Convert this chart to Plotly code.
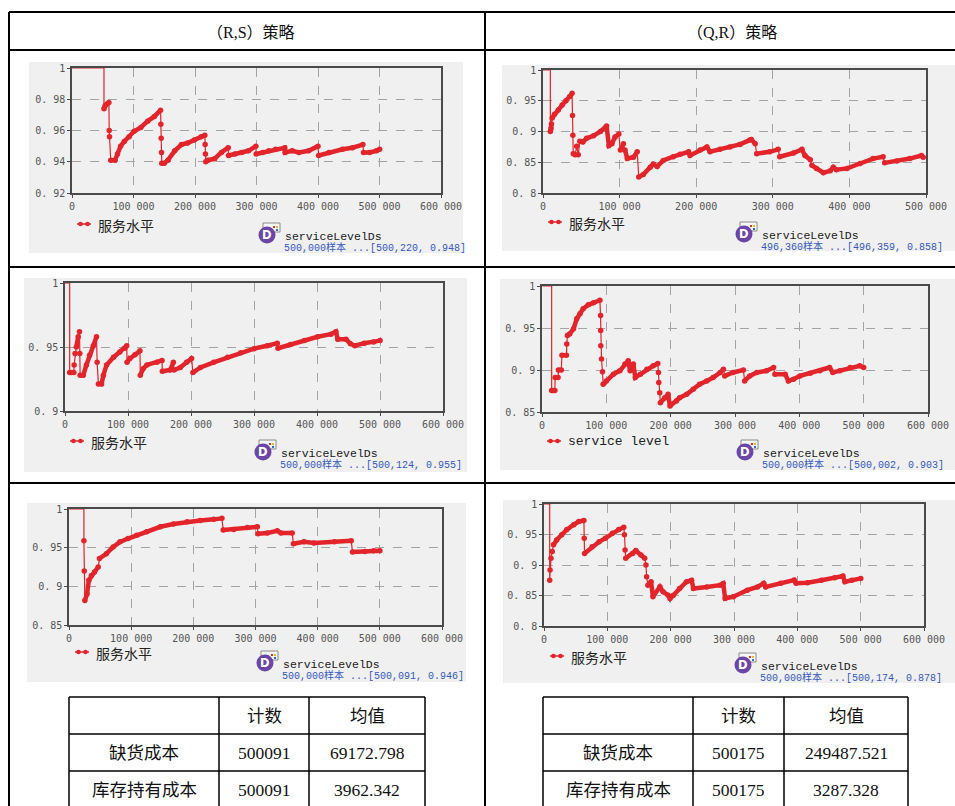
import plotly.graph_objects as go

W, H = 955, 806

# ---------------- data: service level over simulated time ----------------
# (R,S) policy, run A
rs_a_x = [0, 52000,
          52000, 54000, 57000, 60000,
          60500, 61000, 63000, 70000,
          74000, 79000, 85000, 93000, 101000,
          112000, 123000, 134000, 144000,
          144500, 145000, 145500, 146000, 150000,
          156000, 167000, 178000, 188000, 199000, 210000, 216000,
          216500, 217000, 217500, 221000, 232000, 243000, 254000,
          254500, 265000, 276000, 287000, 299000,
          299500, 310000, 320000, 331000, 346000,
          346500, 358000, 369000, 385000, 400000,
          401000, 418000, 440000, 456000, 473000,
          474000, 484000, 495000, 500220]
rs_a_y = [1.0, 1.0,
          0.974, 0.976, 0.977, 0.978,
          0.960, 0.956, 0.941, 0.941,
          0.945, 0.950, 0.953, 0.956, 0.9595,
          0.962, 0.966, 0.969, 0.973,
          0.964, 0.955, 0.946, 0.939, 0.939,
          0.941, 0.947, 0.951, 0.952, 0.954, 0.956, 0.957,
          0.951, 0.945, 0.940, 0.941, 0.942, 0.946, 0.949,
          0.944, 0.945, 0.946, 0.947, 0.950,
          0.945, 0.946, 0.947, 0.948, 0.949,
          0.946, 0.947, 0.946, 0.947, 0.950,
          0.944, 0.946, 0.948, 0.949, 0.951,
          0.946, 0.946, 0.947, 0.948]

# (Q,R) policy, run A
qr_a_x = [0, 9600,
          9600, 10500, 11000, 12000, 15000, 20000, 25000, 30000, 35000, 38000,
          38500, 39000, 39500, 42000, 44000, 46000, 48000, 52000, 57000, 66000, 75000, 83000,
          86000, 90000, 94000, 99000,
          101000, 105000, 107000, 110000, 118000, 123000,
          125000, 131000, 140000, 144000, 149000,
          157000, 170000, 179000, 190000, 192000,
          205000, 214000, 218000, 231000, 244000,
          257000, 270000, 272000, 277000, 279000,
          296000, 307000, 309000, 327000, 338000,
          342000, 349000, 351000, 357000, 366000,
          375000, 379000, 383000, 397000, 414000,
          431000, 444000, 446000, 462000, 479000,
          494000, 496359]
qr_a_y = [1.0, 1.0,
          0.900, 0.905, 0.912, 0.922, 0.928, 0.935, 0.943, 0.950, 0.957, 0.962,
          0.926, 0.894, 0.864, 0.862, 0.876, 0.862, 0.884, 0.883, 0.889, 0.893, 0.900, 0.909,
          0.877, 0.880, 0.891, 0.896,
          0.870, 0.880, 0.870, 0.856, 0.858, 0.867,
          0.826, 0.830, 0.842, 0.847, 0.843,
          0.853, 0.859, 0.863, 0.867, 0.861,
          0.870, 0.875, 0.867, 0.871, 0.875,
          0.879, 0.886, 0.887, 0.880, 0.864,
          0.867, 0.871, 0.859, 0.865, 0.871,
          0.861, 0.854, 0.845, 0.840, 0.833,
          0.836, 0.842, 0.838, 0.840, 0.848,
          0.856, 0.859, 0.849, 0.852, 0.856,
          0.861, 0.858]

# (R,S) policy, run B
rs_b_x = [0, 7400,
          7400, 10000, 14000, 14500, 16000, 18000, 21000, 23000,
          23500, 24000, 29000, 34000, 39000, 45000, 50000,
          51000, 53000, 58000, 61000, 66000, 77000, 87000, 95000, 98000,
          98500, 103000, 111000, 119000,
          119500, 124000, 130000, 146000, 154000,
          154500, 167000, 172000,
          173000, 183000, 193000, 201000,
          203000, 215000, 236000, 258000, 279000, 300000, 321000, 337000,
          338000, 358000, 380000, 401000, 422000, 430000,
          433000, 446000, 453000, 460000, 475000, 490000, 500124]
rs_b_y = [1.0, 1.0,
          0.930, 0.930, 0.930, 0.936, 0.945, 0.950, 0.958, 0.962,
          0.945, 0.928, 0.928, 0.936, 0.9435, 0.951, 0.958,
          0.938, 0.921, 0.921, 0.928, 0.936, 0.942, 0.946, 0.949, 0.951,
          0.938, 0.941, 0.944, 0.947,
          0.928, 0.933, 0.936, 0.938, 0.9395,
          0.931, 0.932, 0.938,
          0.932, 0.934, 0.938, 0.941,
          0.930, 0.934, 0.938, 0.942, 0.9456, 0.9487, 0.951, 0.953,
          0.949, 0.952, 0.955, 0.958, 0.960, 0.962,
          0.956, 0.956, 0.9526, 0.951, 0.953, 0.954, 0.955]

# (Q,R) policy, run B
qr_b_x = [0, 15000,
          15000, 17000, 20000, 20500, 25000, 25500, 30000, 31000, 38000,
          38500, 39500, 43000, 49000, 54000, 59000, 64000, 72000, 80000, 90000,
          91000, 91200, 91400, 92500, 94000, 95000,
          100000, 111000, 121000, 129000, 134000,
          137000, 142000,
          145000, 153000, 163000, 173000, 180000,
          181000, 181500, 183000, 184000, 191000, 196000, 199000, 209000, 214000, 225000,
          235000, 245000, 256000, 266000, 277000, 282000, 284000, 297000, 313000,
          315000, 323000, 334000, 349000, 360000,
          362000, 378000, 383000, 391000, 401000, 417000, 432000, 447000, 452000, 463000,
          479000, 494000, 500002]
qr_b_y = [1.0, 1.0,
          0.8756, 0.8756, 0.8756, 0.891, 0.891, 0.900, 0.900, 0.9176, 0.9176,
          0.931, 0.941, 0.943, 0.949, 0.961, 0.967, 0.973, 0.9776, 0.980, 0.983,
          0.965, 0.947, 0.929, 0.913, 0.898, 0.883,
          0.887, 0.895, 0.899, 0.907, 0.911,
          0.899, 0.907,
          0.891, 0.895, 0.901, 0.905, 0.9076,
          0.897, 0.885, 0.873, 0.861, 0.867, 0.871, 0.857, 0.863, 0.867, 0.871,
          0.877, 0.883, 0.887, 0.891, 0.897, 0.901, 0.893, 0.897, 0.900,
          0.887, 0.893, 0.897, 0.899, 0.903,
          0.895, 0.895, 0.887, 0.889, 0.893, 0.896, 0.899, 0.903, 0.897, 0.899,
          0.903, 0.905, 0.903]

# (R,S) policy, run C
rs_c_x = [0, 24000,
          24000, 24500, 25500, 29000, 32000, 36000, 41000, 47000, 49000, 60000,
          71000, 82000, 95000, 109000, 125000, 147000, 168000, 190000, 211000, 233000, 246000,
          248000, 265000, 287000, 303000,
          304000, 319000, 335000, 341000, 359000,
          361000, 378000, 394000, 427000, 454000,
          456000, 476000, 490000, 500091]
rs_c_y = [1.0, 1.0,
          0.9588, 0.9198, 0.8817, 0.890, 0.908, 0.914, 0.9185, 0.925, 0.936, 0.942,
          0.951, 0.9575, 0.9618, 0.966, 0.9705, 0.977, 0.9805, 0.9835, 0.985, 0.9866, 0.9879,
          0.9727, 0.9736, 0.976, 0.977,
          0.968, 0.969, 0.9718, 0.969, 0.969,
          0.955, 0.9575, 0.956, 0.9575, 0.9588,
          0.9445, 0.945, 0.946, 0.946]

# (Q,R) policy, run C
qr_c_x = [0, 9000,
          9000, 9600, 11000, 13000, 15000, 20000, 28000, 36000, 47000, 55000, 63000,
          63500, 64000, 76000, 87000, 97000, 108000, 118000, 126000,
          127000, 128000, 129000, 140000, 145000, 153000, 159000, 161000, 162000, 164000,
          169000, 172000, 183000, 188000, 196000, 199000, 204000, 214000, 225000, 233000,
          236000, 257000, 278000, 283000, 286000, 299000, 321000, 337000, 347000, 350000,
          374000, 395000, 398000, 416000, 438000, 459000, 472000, 475000, 486000, 500174]
qr_c_y = [1.0, 1.0,
          0.875, 0.892, 0.911, 0.922, 0.933, 0.941, 0.9495, 0.958, 0.966, 0.9714, 0.973,
          0.944, 0.919, 0.930, 0.938, 0.944, 0.952, 0.958, 0.962,
          0.9495, 0.9247, 0.911, 0.919, 0.9236, 0.9165, 0.911, 0.900, 0.8808, 0.867,
          0.8725, 0.8478, 0.8643, 0.856, 0.8505, 0.845, 0.850, 0.8615, 0.8725, 0.875,
          0.8615, 0.864, 0.867, 0.8698, 0.845, 0.848, 0.8588, 0.864, 0.870, 0.864,
          0.870, 0.8753, 0.870, 0.871, 0.875, 0.879, 0.882, 0.8725, 0.875, 0.878]

sample_counts = ["500,000", "496,360", "500,000", "500,000", "500,000", "500,000"]
legend_names = ["服务水平", "服务水平", "服务水平", "service level", "服务水平", "服务水平"]

x_ticks = [0, 100000, 200000, 300000, 400000, 500000, 600000]
x_labels = ["0", "100 000", "200 000", "300 000", "400 000", "500 000", "600 000"]
y_ticks_a = [0.92, 0.94, 0.96, 0.98, 1.0]
y_labels_a = ["0. 92", "0. 94", "0. 96", "0. 98", "1"]
y_ticks_b = [0.8, 0.85, 0.9, 0.95, 1.0]
y_labels_b = ["0. 8", "0. 85", "0. 9", "0. 95", "1"]
y_ticks_c = [0.9, 0.95, 1.0]
y_labels_c = ["0. 9", "0. 95", "1"]
y_ticks_d = [0.85, 0.9, 0.95, 1.0]
y_labels_d = ["0. 85", "0. 9", "0. 95", "1"]

policy_titles = ["（R,S）策略", "（Q,R）策略"]
table_header = ["", "计数", "均值"]
cost_names = ["缺货成本", "库存持有成本"]
rs_counts = ["500091", "500091"]
rs_means = ["69172.798", "3962.342"]
qr_counts = ["500175", "500175"]
qr_means = ["249487.521", "3287.328"]

# ---------------- styling ----------------
RED = "#e3242b"
PANEL = "#f0f0f0"
FRAME = "#4a4a4a"
GRID = "#a3a3a3"
TICKFONT = dict(family="DejaVu Sans Mono", size=10, color="#555555")
CJK = "Noto Sans CJK SC"
SERIF = "Liberation Serif, Noto Sans CJK SC"


def px(x):
    return x / W


def py(y):
    return 1 - y / H


panels = [
    dict(x=rs_a_x, y=rs_a_y, plot=(72, 441, 68, 193), bg=(29, 463, 62, 253),
         xmax=600000, yr=(0.92, 1.0), yt=(y_ticks_a, y_labels_a), leg=(77, 224), ds=(267, 235)),
    dict(x=qr_a_x, y=qr_a_y, plot=(543, 926, 70, 193), bg=(502, 955, 65, 251),
         xmax=500000, yr=(0.8, 1.0), yt=(y_ticks_b, y_labels_b), leg=(548, 222), ds=(744, 234)),
    dict(x=rs_b_x, y=rs_b_y, plot=(65, 443, 283, 411), bg=(24, 467, 278, 472),
         xmax=600000, yr=(0.9, 1.0), yt=(y_ticks_c, y_labels_c), leg=(70, 441), ds=(263, 452)),
    dict(x=qr_b_x, y=qr_b_y, plot=(542, 928, 286, 412), bg=(500, 955, 279, 470),
         xmax=600000, yr=(0.85, 1.0), yt=(y_ticks_d, y_labels_d), leg=(547, 441), ds=(745, 452)),
    dict(x=rs_c_x, y=rs_c_y, plot=(69, 442, 509, 625), bg=(27, 466, 503, 682),
         xmax=600000, yr=(0.85, 1.0), yt=(y_ticks_d, y_labels_d), leg=(75, 652), ds=(265, 663)),
    dict(x=qr_c_x, y=qr_c_y, plot=(544, 924, 504, 626), bg=(503, 955, 500, 683),
         xmax=600000, yr=(0.8, 1.0), yt=(y_ticks_b, y_labels_b), leg=(550, 656), ds=(743, 665)),
]


def band(xs, ys, span):
    """Dense part of the series; vertical jumps are left as thin dotted drops."""
    bx, by = [xs[2]], [ys[2]]
    for i in range(3, len(xs)):
        if xs[i] - xs[i - 1] < 2600 and abs(ys[i] - ys[i - 1]) > 0.04 * span:
            bx.append(None)
            by.append(None)
        bx.append(xs[i])
        by.append(ys[i])
    return bx, by


fig = go.Figure()
shapes = []
annotations = []
layout = {}

for k, p in enumerate(panels, start=1):
    xa = "x" if k == 1 else f"x{k}"
    ya = "y" if k == 1 else f"y{k}"
    x0, x1, y0, y1 = p["plot"]
    span = p["yr"][1] - p["yr"][0]

    fig.add_trace(go.Scatter(x=p["x"], y=p["y"], mode="lines", xaxis=xa, yaxis=ya,
                             line=dict(color=RED, width=1.2), hoverinfo="skip"))
    bx, by = band(p["x"], p["y"], span)
    fig.add_trace(go.Scatter(x=bx, y=by, mode="lines", xaxis=xa, yaxis=ya, connectgaps=False,
                             line=dict(color=RED, width=4.5), hoverinfo="skip"))
    fig.add_trace(go.Scatter(x=p["x"][2:], y=p["y"][2:], mode="markers", xaxis=xa, yaxis=ya,
                             marker=dict(color=RED, size=5.5, line=dict(width=0)), hoverinfo="skip"))

    n = p["xmax"] // 100000 + 1
    axis_common = dict(showline=True, mirror=True, linecolor=FRAME, linewidth=1.5,
                       ticks="outside", ticklen=3, tickcolor=FRAME, tickfont=TICKFONT,
                       showgrid=True, gridcolor=GRID, griddash="dash", gridwidth=1,
                       zeroline=False, fixedrange=True, automargin=False)
    layout["xaxis" if k == 1 else f"xaxis{k}"] = dict(
        domain=[px(x0), px(x1)], anchor=ya, range=[0, p["xmax"]],
        tickvals=x_ticks[:n], ticktext=x_labels[:n], **axis_common)
    layout["yaxis" if k == 1 else f"yaxis{k}"] = dict(
        domain=[py(y1), py(y0)], anchor=xa, range=list(p["yr"]),
        tickvals=p["yt"][0], ticktext=p["yt"][1], **axis_common)

    # grey chart panel
    bx0, bx1, by0, by1 = p["bg"]
    shapes.append(dict(type="rect", xref="paper", yref="paper", layer="below",
                       x0=px(bx0), x1=px(bx1), y0=py(by1), y1=py(by0),
                       fillcolor=PANEL, line=dict(width=0)))

    # legend entry
    lx, ly = p["leg"]
    shapes.append(dict(type="line", xref="paper", yref="paper", x0=px(lx), x1=px(lx + 14),
                       y0=py(ly), y1=py(ly), line=dict(color=RED, width=1.5)))
    for cx in (lx + 3.5, lx + 10.5):
        shapes.append(dict(type="circle", xref="paper", yref="paper",
                           x0=px(cx - 2.3), x1=px(cx + 2.3), y0=py(ly + 2.3), y1=py(ly - 2.3),
                           fillcolor=RED, line=dict(width=0)))
    name = legend_names[k - 1]
    if name.isascii():
        lfont = dict(family="Liberation Mono", size=13, color="#222222")
    else:
        lfont = dict(family=CJK, size=14, color="#222222")
    annotations.append(dict(x=px(lx + 19), y=py(ly + 1), xref="paper", yref="paper", text=name,
                            showarrow=False, xanchor="left", yanchor="middle", font=lfont))

    # data-set icon and caption
    cx, cy = p["ds"]
    shapes.append(dict(type="rect", xref="paper", yref="paper",
                       x0=px(cx - 4), x1=px(cx + 13), y0=py(cy - 3), y1=py(cy - 12),
                       fillcolor="#f7f7f7", line=dict(color="#8a8a8a", width=1)))
    for dx, col in ((6, "#e03030"), (9, "#e0c020"), (9, "#3070d0")):
        oy = -9 if col != "#3070d0" else -6
        shapes.append(dict(type="rect", xref="paper", yref="paper",
                           x0=px(cx + dx), x1=px(cx + dx + 2), y0=py(cy + oy + 2), y1=py(cy + oy),
                           fillcolor=col, line=dict(width=0)))
    shapes.append(dict(type="circle", xref="paper", yref="paper",
                       x0=px(cx - 8.5), x1=px(cx + 8.5), y0=py(cy + 8.5), y1=py(cy - 8.5),
                       fillcolor="#6b46a6", line=dict(width=0)))
    annotations.append(dict(x=px(cx), y=py(cy), xref="paper", yref="paper", text="<b>D</b>",
                            showarrow=False, xanchor="center", yanchor="middle",
                            font=dict(family="DejaVu Sans", size=11.5, color="white")))
    annotations.append(dict(x=px(cx + 16), y=py(cy + 1.5), xref="paper", yref="paper",
                            text="serviceLevelDs", showarrow=False, xanchor="left",
                            yanchor="middle",
                            font=dict(family="Liberation Mono", size=11.5, color="#1a1a1a")))
    last_x, last_y = p["x"][-1], p["y"][-1]
    info = f"{sample_counts[k - 1]}样本 ...[{last_x:,}, {last_y:.3f}]"
    annotations.append(dict(x=px(cx + 15), y=py(cy + 12.5), xref="paper", yref="paper",
                            text=info, showarrow=False, xanchor="left", yanchor="middle",
                            font=dict(family="Liberation Mono, Noto Sans CJK SC", size=10,
                                      color="#3457c0")))

# ---------------- outer frame ----------------
def hline(y, xa, xb, w=2):
    shapes.append(dict(type="line", xref="paper", yref="paper", x0=px(xa), x1=px(xb),
                       y0=py(y), y1=py(y), line=dict(color="black", width=w)))


def vline(x, ya, yb, w=2):
    shapes.append(dict(type="line", xref="paper", yref="paper", x0=px(x), x1=px(x),
                       y0=py(ya), y1=py(yb), line=dict(color="black", width=w)))


for y in (12, 50, 267, 483):
    hline(y, 9, 955)
for x in (9, 485):
    vline(x, 12, 806)

for cxp, title in zip((251, 732), policy_titles):
    annotations.append(dict(x=px(cxp), y=py(32), xref="paper", yref="paper", text=title,
                            showarrow=False, xanchor="center", yanchor="middle",
                            font=dict(family=SERIF, size=16, color="#111111")))

# ---------------- cost tables ----------------
row_y = [697, 734, 771, 810]
for cols, counts, means in (((69, 219, 309, 425), rs_counts, rs_means),
                            ((543, 693, 784, 908), qr_counts, qr_means)):
    for y in row_y[:3]:
        hline(y, cols[0], cols[-1], 1.5)
    for x in cols:
        vline(x, row_y[0], 806, 1.5)
    centers = [(cols[i] + cols[i + 1]) / 2 for i in range(3)]
    rows = [table_header] + [[cost_names[i], counts[i], means[i]] for i in range(2)]
    for r, cells in enumerate(rows):
        yc = (row_y[r] + row_y[r + 1]) / 2 if r < 2 else 790
        for c, txt in enumerate(cells):
            if not txt:
                continue
            annotations.append(dict(x=px(centers[c]), y=py(yc), xref="paper", yref="paper",
                                    text=txt, showarrow=False, xanchor="center",
                                    yanchor="middle",
                                    font=dict(family=SERIF, size=17.5, color="#111111")))

fig.update_layout(width=W, height=H, autosize=False,
                  margin=dict(l=0, r=0, t=0, b=0, pad=0, autoexpand=False),
                  paper_bgcolor="white", plot_bgcolor=PANEL, showlegend=False,
                  shapes=shapes, annotations=annotations, **layout)

fig.write_html("out.html", config={"responsive": False, "displayModeBar": False})
